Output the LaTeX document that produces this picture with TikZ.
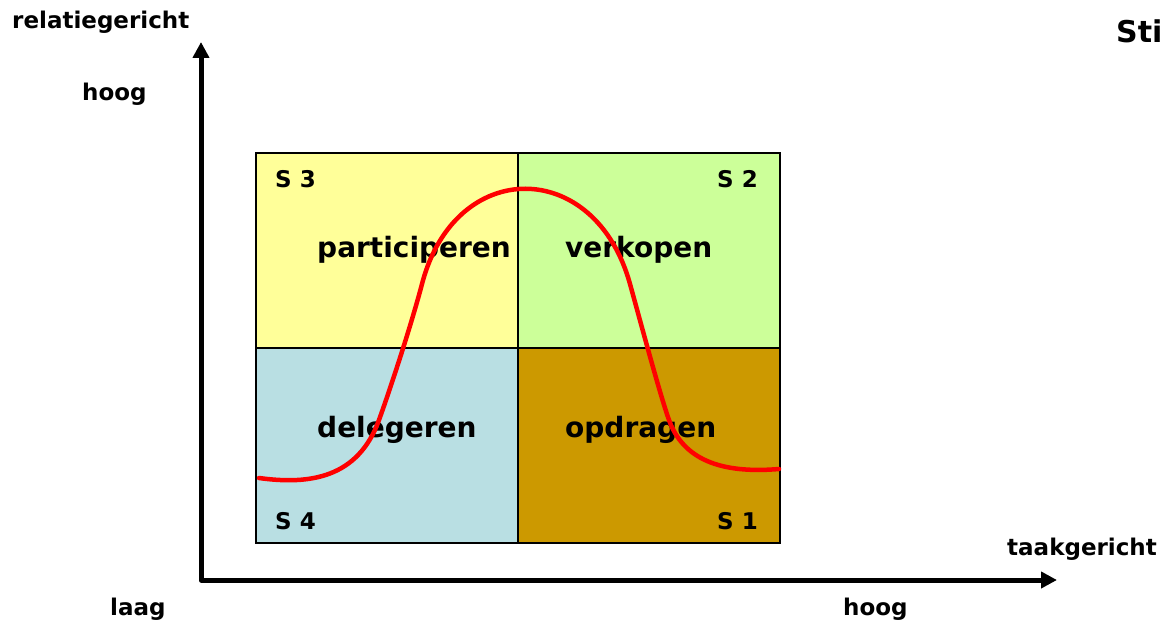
\documentclass[tikz,border=0pt]{standalone}
\usepackage{fontspec}
\setmainfont{DejaVu Sans}
\usetikzlibrary{arrows.meta}
\definecolor{qyellow}{HTML}{FFFF99}
\definecolor{qgreen}{HTML}{CCFF99}
\definecolor{qblue}{HTML}{B9DFE3}
\definecolor{qgold}{HTML}{CC9900}
\definecolor{qred}{HTML}{FF0000}
\begin{document}
\begin{tikzpicture}[x=1pt,y=-1pt,
  lbl/.style={inner sep=0pt,anchor=base west,font=\bfseries\fontsize{23}{25}\selectfont},
  big/.style={inner sep=0pt,anchor=base west,font=\bfseries\fontsize{28}{30}\selectfont},
  quad/.style={draw=black,line width=1.2pt},
  axis/.style={line width=5pt,line join=round,{Triangle[length=16pt,width=16pt]}-{Triangle[length=16pt,width=16pt]}},
  curve/.style={draw=qred,line width=4.5pt,line cap=round}]
\useasboundingbox (0,0) rectangle (1163,623);
% quadrants
\path[quad,fill=qyellow] (256,153) rectangle (518,348);
\path[quad,fill=qgreen] (518,153) rectangle (780,348);
\path[quad,fill=qblue] (256,348) rectangle (518,543);
\path[quad,fill=qgold] (518,348) rectangle (780,543);
% axes
\coordinate (top) at (201,42);
\coordinate (origin) at (201,580);
\coordinate (right) at (1057,580);
\draw[axis] (top) -- (origin) -- (right);
% labels
\node[lbl] (rel) at (12,29) {relatiegericht};
\node[lbl] (hoogy) at (82,101) {hoog};
\node[lbl] (laag) at (110,615) {laag};
\node[lbl] (hoogx) at (843,615) {hoog};
\node[lbl] (taak) at (1007,555) {taakgericht};
\node[inner sep=0pt,anchor=base west,font=\bfseries\fontsize{30}{32}\selectfont] (sti) at (1116,43) {Sti};
\node[lbl] (s3) at (275,188) {S 3};
\node[lbl] (s2) at (717,188) {S 2};
\node[lbl] (s4) at (275,529) {S 4};
\node[lbl] (s1) at (717,529) {S 1};
\node[big] (part) at (317,257) {participeren};
\node[big] (verk) at (565,257) {verkopen};
\node[big] (deleg) at (317,437) {delegeren};
\node[big] (opdr) at (565,437) {opdragen};
% curve
\coordinate (c0) at (259,478);
\coordinate (c1) at (379,420);
\coordinate (c2) at (422,284);
\coordinate (c3) at (630,284);
\coordinate (c4) at (669,420);
\coordinate (c5) at (779,469);
\draw[curve] (c0) .. controls (310,485) and (358,478) .. (c1)
  .. controls (392,384) and (412,322) .. (c2)
  .. controls (455,157) and (595,157) .. (c3)
  .. controls (640,320) and (660,395) .. (c4)
  .. controls (683,459) and (720,474) .. (c5);
\end{tikzpicture}
\end{document}
